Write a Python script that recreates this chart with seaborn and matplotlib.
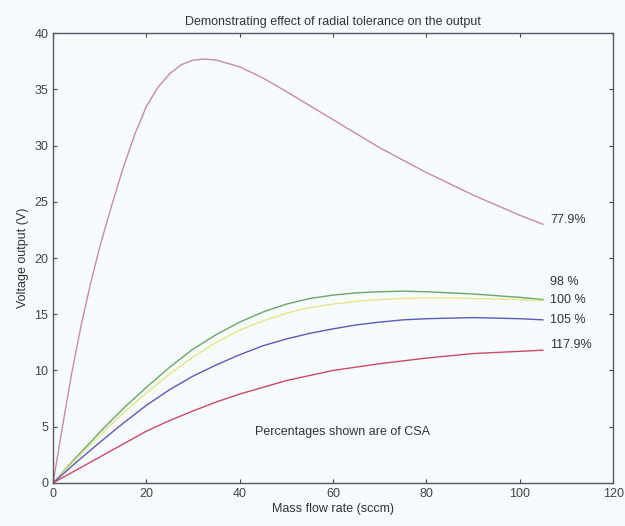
import pandas as pd
import seaborn as sns
import matplotlib.pyplot as plt

sns.set_style("ticks")
plt.rcParams["font.family"] = ["Liberation Sans Narrow", "Liberation Sans", "DejaVu Sans"]

# pink curve (77.9 %) sampled more finely near the peak
x_pink = [0, 2, 4, 6, 8, 10, 12.5, 15, 17.5, 20, 22.5, 25, 27.5, 30, 32.5, 35,
          40, 45, 50, 60, 70, 80, 90, 100, 105]
v_pink = [0, 5, 9.8, 14, 17.7, 21, 24.6, 28, 31, 33.5, 35.2, 36.4, 37.2, 37.6, 37.7, 37.6,
          37.0, 36.0, 34.8, 32.3, 29.8, 27.6, 25.6, 23.8, 23.0]

# other curves share one flow-rate grid
x_flow = [0, 5, 10, 15, 20, 25, 30, 35, 40, 45, 50, 55, 60, 65, 70, 75, 80, 85, 90, 95, 100, 105]
v_98 = [0, 2.3, 4.5, 6.6, 8.5, 10.3, 11.9, 13.2, 14.3, 15.2, 15.9, 16.4, 16.7, 16.9, 17.0,
        17.05, 17.0, 16.9, 16.8, 16.65, 16.5, 16.3]
v_100 = [0, 2.15, 4.2, 6.2, 8.0, 9.7, 11.2, 12.5, 13.6, 14.4, 15.1, 15.6, 15.9, 16.15, 16.3,
         16.4, 16.45, 16.45, 16.4, 16.35, 16.3, 16.2]
v_105 = [0, 1.85, 3.6, 5.3, 6.9, 8.3, 9.5, 10.5, 11.4, 12.2, 12.8, 13.3, 13.7, 14.05, 14.3,
         14.5, 14.6, 14.65, 14.7, 14.65, 14.6, 14.5]
v_117 = [0, 1.15, 2.3, 3.45, 4.6, 5.55, 6.4, 7.2, 7.9, 8.5, 9.1, 9.55, 10.0, 10.3, 10.6,
         10.85, 11.1, 11.3, 11.5, 11.6, 11.7, 11.8]

labels = ["77.9%", "98 %", "100 %", "105 %", "117.9%"]
label_y = [23.4, 17.9, 16.3, 14.5, 12.3]
colors = ["#c98aa8", "#6aa86a", "#e6e68a", "#5a5ab8", "#cc4a66"]

frames = [pd.DataFrame({"flow": x_pink, "volt": v_pink, "curve": labels[0]})]
for lab, vals in zip(labels[1:], [v_98, v_100, v_105, v_117]):
    frames.append(pd.DataFrame({"flow": x_flow, "volt": vals, "curve": lab}))
df = pd.concat(frames, ignore_index=True)

fig = plt.figure(figsize=(6.25, 5.26), dpi=100)
fig.patch.set_facecolor("#f6fbfd")
ax = fig.add_axes([0.085, 0.082, 0.896, 0.855])
ax.set_facecolor("#f6fbfd")

sns.lineplot(data=df, x="flow", y="volt", hue="curve", hue_order=labels,
             palette=colors, linewidth=1.0, legend=False, ax=ax, sort=False)

for lab, yv in zip(labels, label_y):
    ax.text(106.5, yv, lab, fontsize=9, color="#333333", va="center", ha="left")

ax.text(62, 4.5, "Percentages shown are of CSA", fontsize=9, color="#333333", ha="center", va="center")

ax.set_xlim(0, 120)
ax.set_ylim(0, 40)
ax.set_xticks(range(0, 121, 20))
ax.set_yticks(range(0, 41, 5))
ax.tick_params(direction="in", top=True, right=True, labelsize=9, colors="#444444", length=3)
for s in ax.spines.values():
    s.set_color("#555566")
    s.set_linewidth(1.0)

ax.set_xlabel("Mass flow rate (sccm)", fontsize=9, color="#333333", labelpad=2)
ax.set_ylabel("Voltage output (V)", fontsize=9, color="#333333", labelpad=4)
ax.set_title("Demonstrating effect of radial tolerance on the output", fontsize=9, color="#333333", pad=6)

fig.savefig("out.png", dpi=100, facecolor=fig.get_facecolor())
